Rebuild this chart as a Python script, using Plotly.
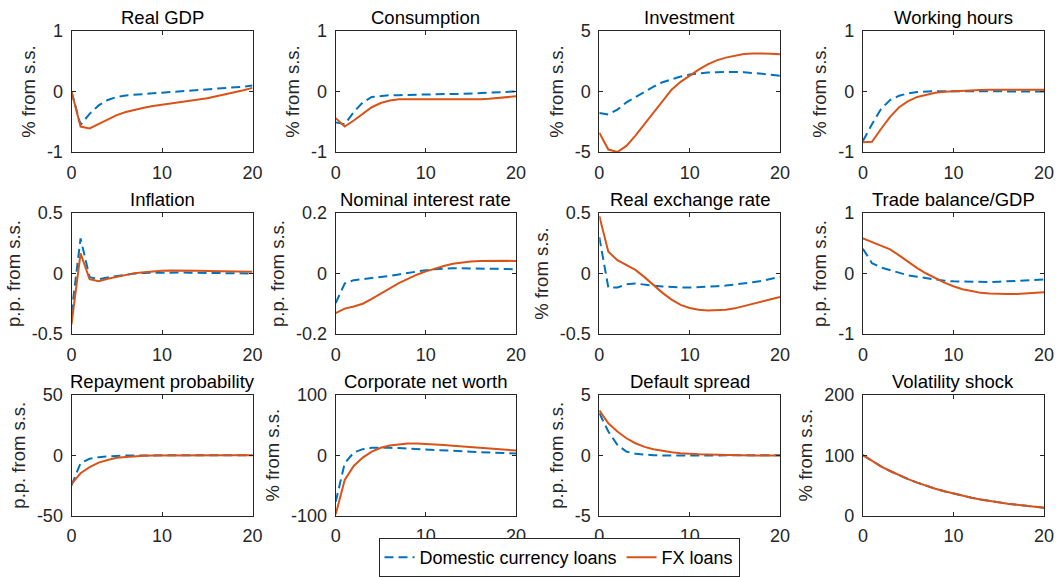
import plotly.graph_objects as go

t = list(range(21))

titles = ["Real GDP", "Consumption", "Investment", "Working hours",
          "Inflation", "Nominal interest rate", "Real exchange rate", "Trade balance/GDP",
          "Repayment probability", "Corporate net worth", "Default spread", "Volatility shock"]
ylabels = ["% from s.s.", "% from s.s.", "% from s.s.", "% from s.s.",
           "p.p. from s.s.", "p.p. from s.s.", "% from s.s.", "p.p. from s.s.",
           "p.p. from s.s.", "% from s.s.", "p.p. from s.s.", "% from s.s."]
ytick_vals = [[-1, 0, 1], [-1, 0, 1], [-5, 0, 5], [-1, 0, 1],
              [-0.5, 0, 0.5], [-0.2, 0, 0.2], [-0.5, 0, 0.5], [-1, 0, 1],
              [-50, 0, 50], [-100, 0, 100], [-5, 0, 5], [0, 100, 200]]
ytick_text = [["-1", "0", "1"], ["-1", "0", "1"], ["-5", "0", "5"], ["-1", "0", "1"],
              ["-0.5", "0", "0.5"], ["-0.2", "0", "0.2"], ["-0.5", "0", "0.5"], ["-1", "0", "1"],
              ["-50", "0", "50"], ["-100", "0", "100"], ["-5", "0", "5"], ["0", "100", "200"]]
xtick_vals = [0, 10, 20]

dom_gdp = [0, -0.55, -0.37, -0.23, -0.14, -0.09, -0.065, -0.05, -0.04, -0.03, -0.02, -0.01, 0.0, 0.01, 0.02, 0.03, 0.04, 0.05, 0.07, 0.08, 0.10]
fx_gdp = [0, -0.58, -0.61, -0.54, -0.46, -0.39, -0.34, -0.30, -0.27, -0.24, -0.22, -0.20, -0.18, -0.15, -0.13, -0.11, -0.08, -0.05, -0.02, 0.02, 0.06]

dom_cons = [-0.51, -0.54, -0.34, -0.18, -0.09, -0.07, -0.06, -0.06, -0.055, -0.055, -0.05, -0.05, -0.045, -0.04, -0.04, -0.035, -0.03, -0.025, -0.02, -0.01, 0.0]
fx_cons = [-0.44, -0.58, -0.48, -0.37, -0.26, -0.19, -0.15, -0.13, -0.13, -0.13, -0.13, -0.14, -0.14, -0.14, -0.14, -0.13, -0.13, -0.12, -0.11, -0.09, -0.08]

dom_inv = [-1.77, -1.9, -1.5, -0.9, -0.47, 0.0, 0.4, 0.77, 1.0, 1.24, 1.4, 1.5, 1.57, 1.6, 1.63, 1.62, 1.6, 1.55, 1.46, 1.38, 1.3]
fx_inv = [-3.4, -4.8, -5.0, -4.5, -3.65, -2.7, -1.7, -0.75, 0.15, 0.8, 1.33, 1.8, 2.24, 2.57, 2.8, 2.98, 3.1, 3.15, 3.15, 3.12, 3.07]

dom_hours = [-0.82, -0.54, -0.29, -0.14, -0.07, -0.03, -0.01, 0.0, 0.005, 0.005, 0.005, 0.005, 0.005, 0.005, 0.005, 0.005, 0.005, 0.005, 0.0, 0.0, 0.0]
fx_hours = [-0.84, -0.83, -0.62, -0.42, -0.26, -0.16, -0.09, -0.05, -0.02, -0.005, 0.005, 0.015, 0.02, 0.025, 0.03, 0.03, 0.03, 0.03, 0.03, 0.03, 0.03]

dom_infl = [-0.33, 0.29, -0.03, -0.047, -0.033, -0.02, -0.008, 0.0, 0.005, 0.007, 0.008, 0.008, 0.008, 0.007, 0.006, 0.005, 0.004, 0.003, 0.002, 0.001, 0.0]
fx_infl = [-0.42, 0.166, -0.047, -0.064, -0.044, -0.028, -0.014, 0.003, 0.011, 0.018, 0.022, 0.024, 0.025, 0.024, 0.022, 0.021, 0.02, 0.019, 0.017, 0.015, 0.014]

dom_rate = [-0.098, -0.033, -0.022, -0.019, -0.016, -0.011, -0.008, -0.003, 0.002, 0.007, 0.011, 0.014, 0.016, 0.017, 0.017, 0.017, 0.017, 0.016, 0.016, 0.015, 0.013]
fx_rate = [-0.131, -0.116, -0.109, -0.1, -0.084, -0.067, -0.049, -0.032, -0.018, -0.004, 0.007, 0.017, 0.025, 0.032, 0.037, 0.04, 0.041, 0.042, 0.042, 0.042, 0.041]

dom_rer = [0.3, -0.116, -0.116, -0.09, -0.083, -0.089, -0.1, -0.108, -0.113, -0.115, -0.116, -0.114, -0.11, -0.105, -0.1, -0.092, -0.083, -0.072, -0.06, -0.045, -0.028]
fx_rer = [0.476, 0.18, 0.11, 0.07, 0.03, -0.03, -0.097, -0.16, -0.216, -0.26, -0.285, -0.3, -0.305, -0.305, -0.3, -0.288, -0.27, -0.255, -0.235, -0.213, -0.194]

dom_tb = [0.41, 0.17, 0.1, 0.055, 0.01, -0.03, -0.055, -0.08, -0.1, -0.12, -0.13, -0.135, -0.14, -0.14, -0.14, -0.135, -0.13, -0.125, -0.12, -0.11, -0.1]
fx_tb = [0.58, 0.52, 0.47, 0.4, 0.3, 0.19, 0.09, 0.0, -0.08, -0.15, -0.21, -0.26, -0.29, -0.32, -0.33, -0.34, -0.34, -0.34, -0.33, -0.32, -0.31]

dom_repay = [-25.0, -6.6, -3.0, -1.6, -1.0, -0.5, -0.3, -0.2, -0.1, -0.05, 0, 0, 0, 0, 0, 0, 0, 0, 0, 0, 0]
fx_repay = [-23.7, -14.9, -9.9, -6.1, -3.9, -2.2, -1.4, -0.8, -0.5, -0.3, -0.2, -0.1, -0.05, 0, 0, 0, 0, 0, 0, 0, 0]

dom_nw = [-77, -13.3, 4.4, 10, 12.2, 12.8, 12.2, 11.7, 11.1, 10.5, 10, 9.1, 8.3, 7.5, 6.7, 5.8, 5.0, 4.4, 3.9, 3.3, 2.8]
fx_nw = [-97.8, -41, -17.8, -3.9, 6, 12.2, 16.1, 18.3, 19.4, 19.4, 18.9, 17.8, 16.7, 15.5, 14.4, 13.3, 12.2, 11.1, 10, 8.9, 7.8]

dom_spread = [3.47, 1.96, 0.85, 0.3, 0.11, 0.03, 0.0, -0.03, -0.03, -0.03, -0.03, -0.03, -0.03, -0.02, -0.02, -0.02, -0.01, -0.01, 0.0, 0.0, 0.0]
fx_spread = [3.7, 2.64, 1.96, 1.4, 0.99, 0.69, 0.5, 0.36, 0.25, 0.17, 0.11, 0.08, 0.055, 0.03, 0.015, 0.0, -0.01, -0.02, -0.02, -0.03, -0.03]

dom_vol = [100, 90.4, 81.7, 73.9, 66.8, 60.4, 54.6, 49.3, 44.6, 40.3, 36.4, 32.9, 29.8, 26.9, 24.3, 22.0, 19.9, 18.0, 16.2, 14.7, 13.3]
fx_vol = [100, 90.4, 81.7, 73.9, 66.8, 60.4, 54.6, 49.3, 44.6, 40.3, 36.4, 32.9, 29.8, 26.9, 24.3, 22.0, 19.9, 18.0, 16.2, 14.7, 13.3]

dom_series = [dom_gdp, dom_cons, dom_inv, dom_hours, dom_infl, dom_rate, dom_rer, dom_tb,
              dom_repay, dom_nw, dom_spread, dom_vol]
fx_series = [fx_gdp, fx_cons, fx_inv, fx_hours, fx_infl, fx_rate, fx_rer, fx_tb,
             fx_repay, fx_nw, fx_spread, fx_vol]

W, H = 1060, 577
col_px = [(71.5, 252.5), (335.7, 516.0), (599.3, 780.0), (862.9, 1044.0)]
row_px = [(31.0, 152.0), (213.0, 334.0), (394.7, 515.7)]

BLUE = "#0072BD"
ORANGE = "#D95319"
AXC = "#262626"
FONT = "Liberation Sans, Arial, sans-serif"
TICK_SIZE = 18
LABEL_SIZE = 18.5
TITLE_SIZE = 18.5
LEGEND_SIZE = 18

fig = go.Figure()
layout = dict(width=W, height=H,
              margin=dict(l=0, r=0, t=0, b=0, pad=0, autoexpand=False),
              paper_bgcolor="white", plot_bgcolor="white",
              font=dict(family=FONT, color=AXC, size=TICK_SIZE),
              showlegend=True)
annotations = []

for i in range(12):
    r, c = divmod(i, 4)
    n = "" if i == 0 else str(i + 1)
    xd = [col_px[c][0] / W, col_px[c][1] / W]
    yd = [1 - row_px[r][1] / H, 1 - row_px[r][0] / H]
    lo, hi = ytick_vals[i][0], ytick_vals[i][-1]
    common = dict(showline=True, linecolor=AXC, linewidth=1, mirror="ticks",
                  ticks="inside", ticklen=4, tickcolor=AXC, tickwidth=1,
                  showgrid=False, zeroline=False, automargin=False,
                  tickfont=dict(size=TICK_SIZE, color=AXC, family=FONT))
    layout["xaxis" + n] = dict(domain=xd, range=[0, 20], tickvals=xtick_vals,
                               ticktext=[str(v) for v in xtick_vals],
                               anchor="y" + n, ticklabelstandoff=4, **common)
    layout["yaxis" + n] = dict(domain=yd, range=[lo, hi], tickvals=ytick_vals[i],
                               ticktext=ytick_text[i], anchor="x" + n,
                               ticklabelstandoff=4,
                               title=dict(text=ylabels[i], font=dict(size=LABEL_SIZE, color=AXC, family=FONT), standoff=6),
                               **common)
    fig.add_trace(go.Scatter(x=t, y=dom_series[i], mode="lines",
                             line=dict(color=BLUE, width=2, dash="9px,5px"),
                             name="Domestic currency loans", showlegend=(i == 0),
                             xaxis="x" + n, yaxis="y" + n))
    fig.add_trace(go.Scatter(x=t, y=fx_series[i], mode="lines",
                             line=dict(color=ORANGE, width=2),
                             name="FX loans", showlegend=(i == 0),
                             xaxis="x" + n, yaxis="y" + n))
    annotations.append(dict(text=titles[i], x=(xd[0] + xd[1]) / 2, y=yd[1],
                            xref="paper", yref="paper", xanchor="center", yanchor="bottom",
                            showarrow=False, yshift=1,
                            font=dict(size=TITLE_SIZE, color="black", family=FONT)))

layout["annotations"] = annotations
layout["legend"] = dict(orientation="h", x=559 / W, xanchor="center", y=0, yanchor="bottom",
                        bordercolor=AXC, borderwidth=1, bgcolor="white",
                        font=dict(size=LEGEND_SIZE, color="black", family=FONT),
                        itemwidth=30, tracegroupgap=0, traceorder="normal")
fig.update_layout(**layout)
fig.write_html("out.html")
